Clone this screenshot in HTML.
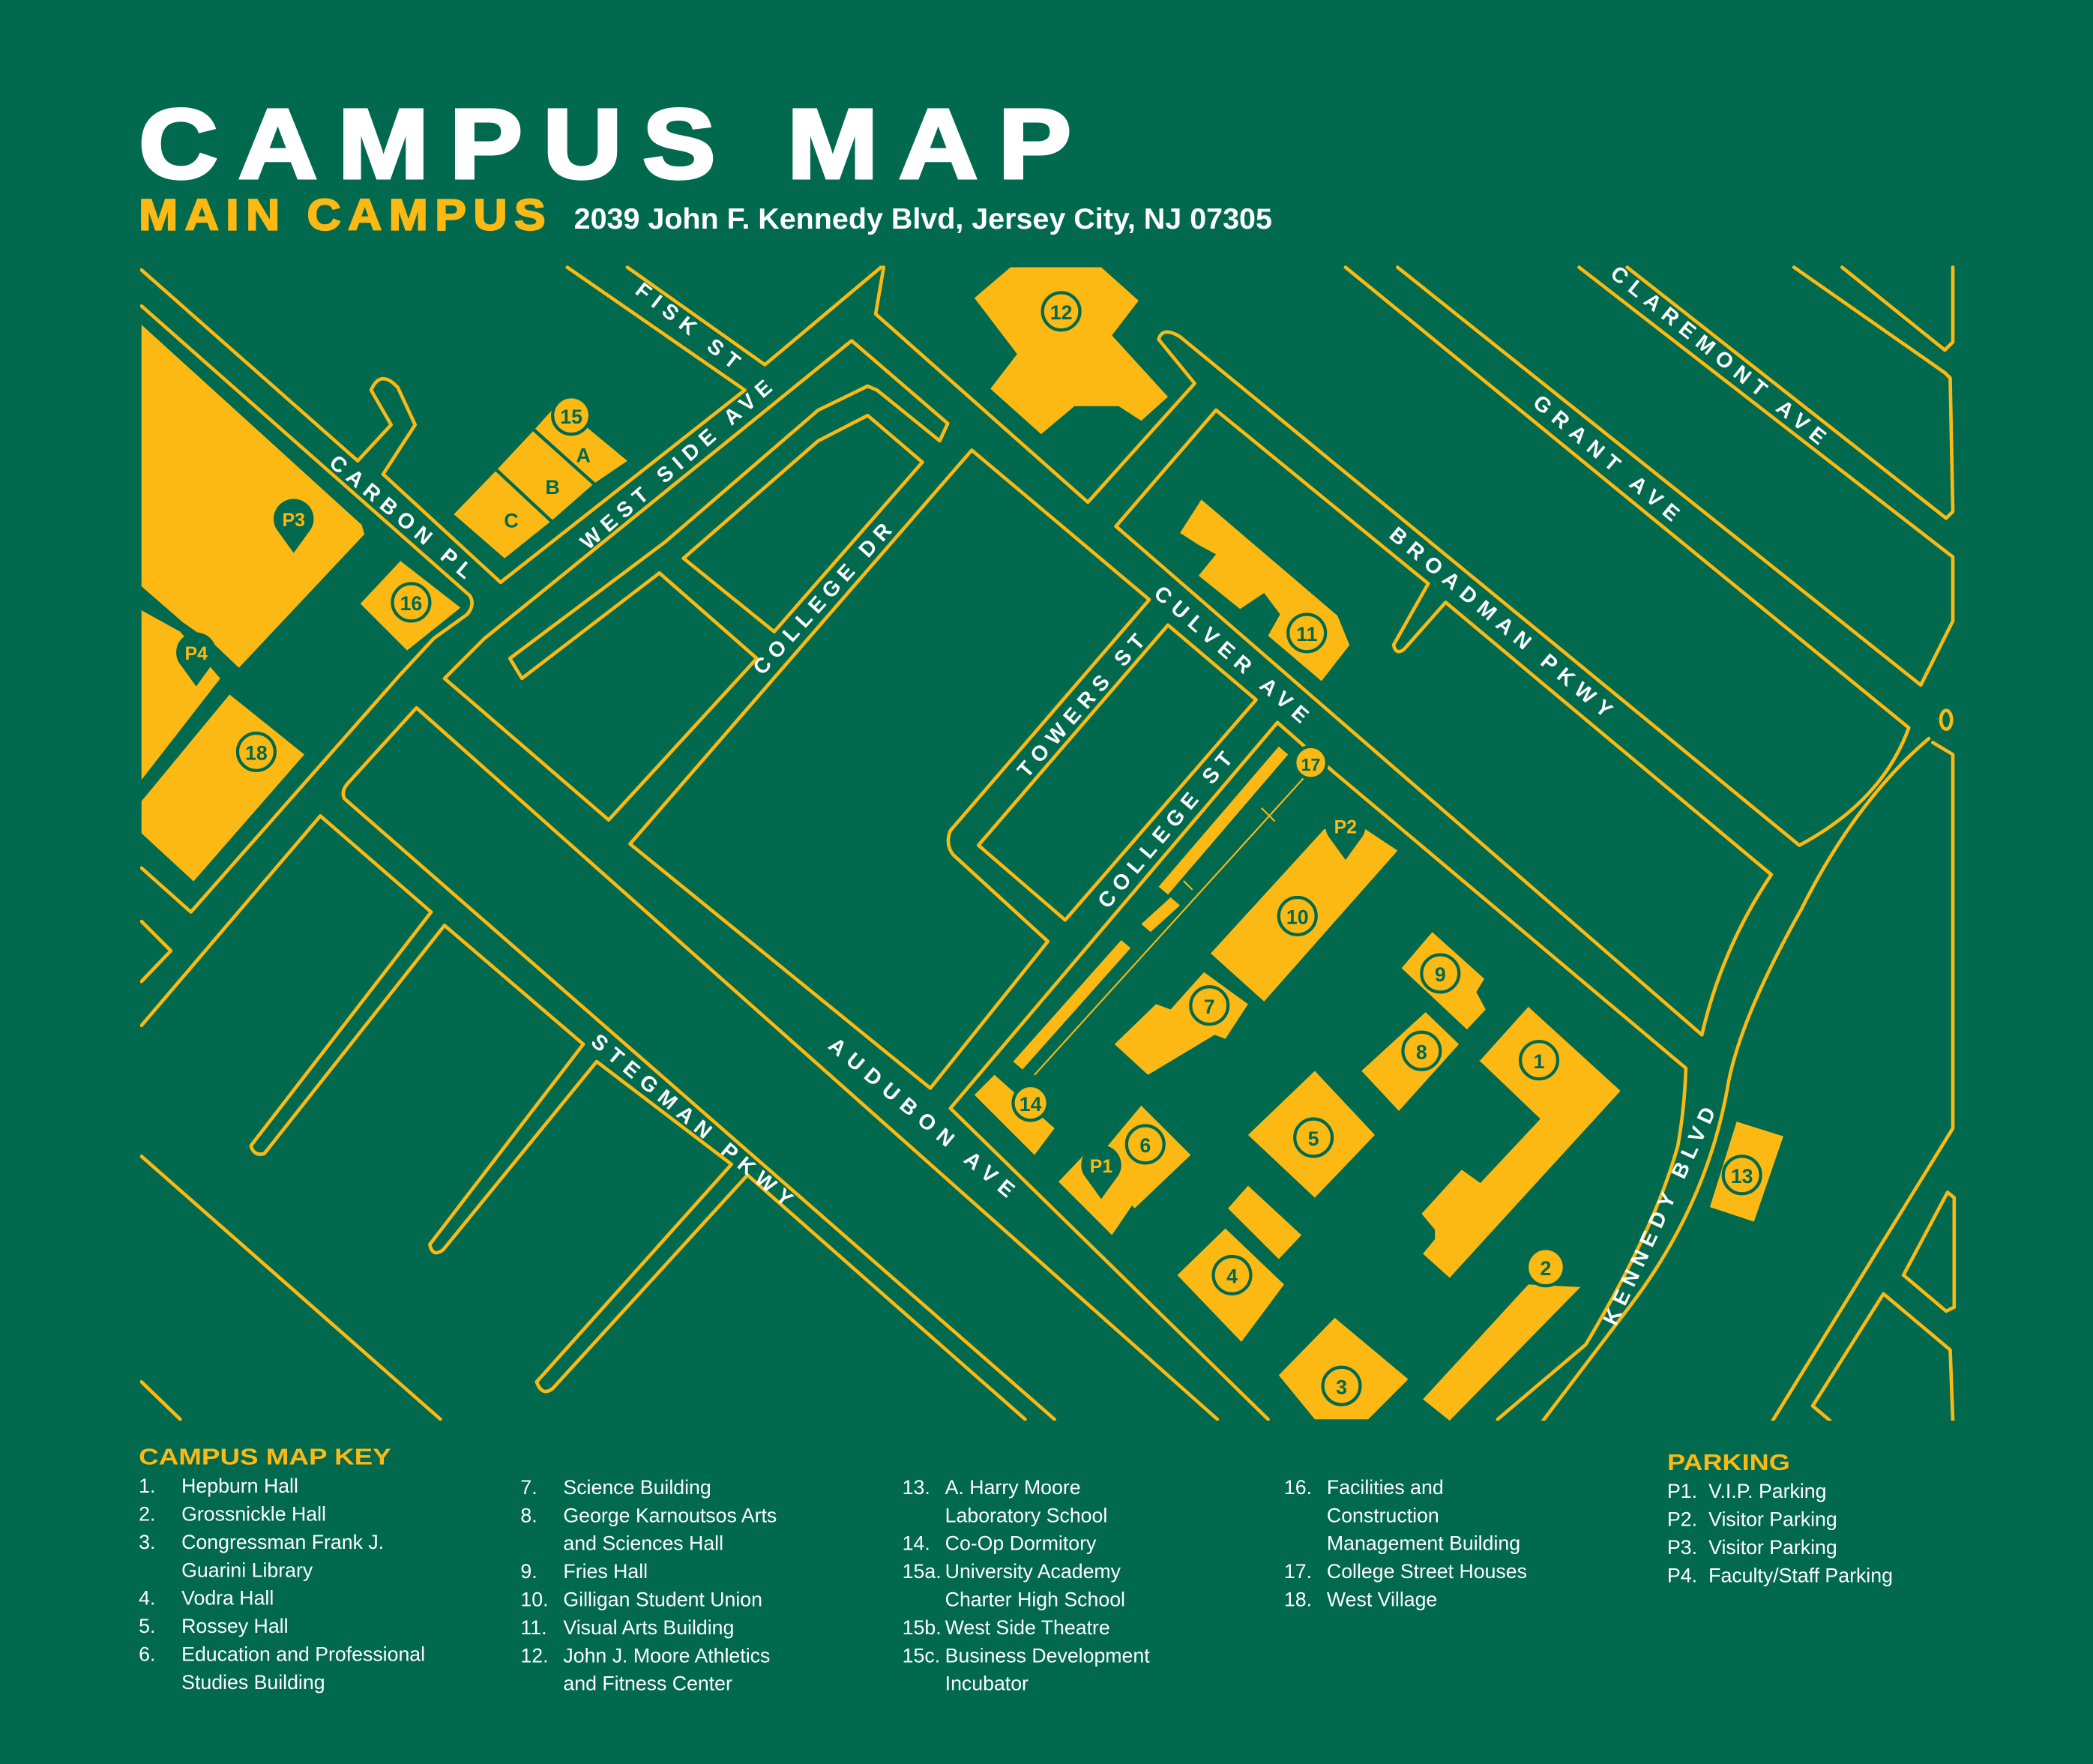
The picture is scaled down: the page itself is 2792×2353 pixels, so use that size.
<!DOCTYPE html>
<html><head><meta charset="utf-8"><style>
html,body{margin:0;padding:0;background:#00694e;}
svg{display:block}
</style></head><body>
<svg width="2792" height="2353" viewBox="0 0 1568 1321" xmlns="http://www.w3.org/2000/svg" font-family="Liberation Sans, sans-serif">
<rect width="1568" height="1321" fill="#00694e"/>
<!-- Header -->
<text x="104" y="133" fill="#fff" stroke="#fff" stroke-width="2.5" font-size="74" font-weight="bold" letter-spacing="14" textLength="714" lengthAdjust="spacingAndGlyphs">CAMPUS MAP</text>
<text x="104" y="172" fill="#fdb913" stroke="#fdb913" stroke-width="1.2" font-size="33" font-weight="bold" letter-spacing="5" textLength="310" lengthAdjust="spacingAndGlyphs">MAIN CAMPUS</text>
<text x="430" y="171" fill="#fff" font-size="22" font-weight="bold" textLength="523" lengthAdjust="spacingAndGlyphs">2039 John F. Kennedy Blvd, Jersey City, NJ 07305</text>

<!-- Map -->
<svg x="105" y="198" width="1361" height="866" viewBox="105 198 1361 866" overflow="hidden">
<g fill="#fdb913" stroke="none">
 <polygon points="106,243 271,393 273,400 179,500 160,482 137,466 106,439"/>
 <polygon points="106,457 135,473 165,508 106,584"/>
 <polygon points="106,600 172,520 228,565 145,660 106,624"/>
 <polygon points="270,452 300,420 345,455 305,487"/>
 <polygon points="340,385 372,352 413,390 378,418"/>
 <polygon points="372,352 400,322 445,362 413,390"/>
 <polygon points="400,322 418,302 470,345 445,362"/>
 <polygon points="730,223 757,200 825,200 853,225 833,251 875,297 855,315 838,304 805,304 780,325 742,291 762,265"/>
 <polygon points="884,399 900,374 1002,461 1011,483 990,510 950,476 959,460 947,444 929,456 898,431 911,415 898,408"/>
 <polygon points="868,664 958,559 965,565 875,670"/>
 <polygon points="855,692 877,672 884,678 862,698"/>
 <polygon points="759,795 840,704 847,710 766,801"/>
 <polygon points="907,714 992,621 1020,619 1047,637 947,750"/>
 <polygon points="1050,725 1073,698 1112,733 1106,743 1113,756 1099,771"/>
 <polygon points="1020,802 1068,758 1093,782 1048,832"/>
 <polygon points="835,782 866,752 877,756 902,728 935,752 918,778 910,775 860,805"/>
 <polygon points="1109,794 1145,754 1214,817 1086,957 1066,939 1075,928 1075,921 1065,909 1095,876 1109,886 1154,838 1108,794"/>
 <polygon points="935,850 985,802 1030,850 985,897"/>
 <polygon points="730,820 745,805 790,845 775,865"/>
 <polygon points="820,870 855,828 892,865 850,905"/>
 <polygon points="793,885 815,862 850,900 833,925"/>
 <polygon points="882,955 918,920 962,962 930,1005"/>
 <polygon points="920,905 935,888 975,925 958,943"/>
 <polygon points="958,1030 1000,987 1055,1033 1025,1063 985,1063"/>
 <polygon points="1066,1048 1145,962 1184,964 1086,1064"/>
 <polygon points="1301,840 1336,851 1314,915 1281,904"/>
</g>
<g stroke="#00694e" stroke-width="2.5">
 <line x1="370" y1="350" x2="415" y2="392"/>
 <line x1="398" y1="320" x2="447" y2="364"/>
</g>
<g fill="none" stroke="#fdb913" stroke-width="2.6" stroke-linejoin="round" stroke-linecap="round">
 <path d="M106,202 L268,345 L293,318 L278,292 Q285,276 298,290 L311,318 L287,355 L375,436 L558,292 L425,200"/>
 <path d="M470,200 L573,273 L660,200"/>
 <path d="M106,229 L352,446 Q356,453 350,460 L325,478 L300,505 L143,683 L106,650"/>
 <path d="M106,690 L128,712 L106,735"/>
 <path d="M106,768 L240,611 L323,683 L188,858 Q190,866 198,864 L333,693"/>
 <path d="M333,508 L363,478 L638,255 L710,317 L704,330 L657,292 L650,289 L613,307 L498,406 L382,493 L391,508 L494,429 L567,493 L456,614 Z"/>
 <path d="M512,418 L613,330 L650,311 L691,346 L580,473 Z"/>
 <path d="M472,632 L728,337 L861,449 L712,622 Q708,632 714,640 L785,705 L697,815 Z"/>
 <path d="M733,633 L875,468 L941,524 L798,689 Z"/>
 <path d="M662,200 L656,235 L815,376 L895,287 L868,254 Q871,244 884,252 L1348,633 Q1410,600 1430,545 L1008,200"/>
 <path d="M836,394 L911,307 L1070,437 L1044,483 Q1046,491 1052,486 L1083,451 L1327,655 Q1290,710 1275,775 Z"/>
 <path d="M1047,200 L1439,513 L1463,465 L1463,417 L1183,200"/>
 <path d="M1219,200 L1458,388 L1463,383 L1461,283 L1457,279 L1344,200"/>
 <path d="M1380,200 L1457,262 L1463,256 L1463,200"/>
 <ellipse cx="1458" cy="539" rx="4" ry="7"/>
 <path d="M950,1063 L712,830 L957,541 L999,578 L1263,800 Q1262,830 1257,858 Q1240,920 1188,1007 L1122,1063"/>
 <path d="M1445,553 Q1390,600 1350,680 Q1305,760 1295,810 Q1280,900 1222,977 L1156,1064"/>
 <path d="M1448,556 L1463,565 L1463,845 L1328,1064"/>
 <path d="M1459,893 L1464,897 L1464,979 L1458,982 L1426,955 Z"/>
 <path d="M1371,1064 L1358,1053 L1411,969 L1461,1011 L1463,1064"/>
 <path d="M258,598 Q255,592 262,585 L312,530 L912,1063"/>
 <path d="M258,598 L790,1063"/>
 <path d="M333,693 L437,782 L322,932 Q324,942 332,936 L447,795 L548,872 L402,1035 Q406,1046 414,1040 L560,880 L768,1063"/>
 <path d="M106,866 L330,1063"/>
 <path d="M106,1035 L135,1063"/>
 <path d="M887,660 L893,666" stroke-width="1.2"/>
</g>
<path d="M979,580 L775,805" stroke="#fdb913" stroke-width="1.2" fill="none"/>
<path d="M945,605 L955,615" stroke="#fdb913" stroke-width="1.2" fill="none"/>
<!-- badges -->
<g font-size="15" font-weight="bold" text-anchor="middle" fill="#00694e">
 <g stroke="#00694e" stroke-width="2.4" fill="#fdb913">
  <circle cx="795" cy="233" r="14"/><circle cx="979" cy="474" r="14"/>
  <circle cx="428" cy="311" r="14"/><circle cx="982" cy="571" r="12"/>
  <circle cx="972" cy="686" r="14"/><circle cx="1079" cy="729" r="14"/>
  <circle cx="1065" cy="787" r="14"/><circle cx="906" cy="753" r="14"/>
  <circle cx="1153" cy="794" r="14"/><circle cx="984" cy="852" r="14"/>
  <circle cx="772" cy="826" r="13"/><circle cx="858" cy="857" r="14"/>
  <circle cx="923" cy="955" r="14"/><circle cx="1005" cy="1038" r="14"/>
  <circle cx="1158" cy="949" r="14"/><circle cx="1305" cy="880" r="14"/>
  <circle cx="308" cy="451" r="14"/><circle cx="192" cy="563" r="14"/>
 </g>
 <text x="795" y="239">12</text><text x="979" y="480">11</text>
 <text x="428" y="317">15</text><text x="982" y="577" font-size="13">17</text>
 <text x="972" y="692">10</text><text x="1079" y="735">9</text>
 <text x="1065" y="793">8</text><text x="906" y="759">7</text>
 <text x="1153" y="800">1</text><text x="984" y="858">5</text>
 <text x="772" y="832">14</text><text x="858" y="863">6</text>
 <text x="923" y="961">4</text><text x="1005" y="1044">3</text>
 <text x="1158" y="955">2</text><text x="1305" y="886">13</text>
 <text x="308" y="457">16</text><text x="192" y="569">18</text>
 <text x="437" y="346">A</text><text x="414" y="370">B</text><text x="383" y="395">C</text>
</g>
<!-- pins -->
<g fill="#00694e">
 <path d="M220,414 L207,396 A15,15 0 1 1 233,396 Z"/>
 <path d="M147,514 L134,496 A15,15 0 1 1 160,496 Z"/>
 <path d="M1008,644 L995,626 A15,15 0 1 1 1021,626 Z"/>
 <path d="M825,898 L812,880 A15,15 0 1 1 838,880 Z"/>
</g>
<g font-size="14" font-weight="bold" text-anchor="middle" fill="#fdb913">
 <text x="220" y="394">P3</text><text x="147" y="494">P4</text>
 <text x="1008" y="624">P2</text><text x="825" y="878">P1</text>
</g>
<!-- road labels -->
<g fill="#fff" font-size="16" font-weight="bold" text-anchor="middle">
 <text transform="translate(297,391) rotate(40)" textLength="134" lengthAdjust="spacing">CARBON PL</text>
 <text transform="translate(512,248) rotate(38)" textLength="94" lengthAdjust="spacing">FISK ST</text>
 <text transform="translate(510,352) rotate(-41)" textLength="184" lengthAdjust="spacing">WEST SIDE AVE</text>
 <text transform="translate(620,452) rotate(-48)" textLength="146" lengthAdjust="spacing">COLLEGE DR</text>
 <text transform="translate(814,532) rotate(-49)" textLength="136" lengthAdjust="spacing">TOWERS ST</text>
 <text transform="translate(919,494) rotate(41)" textLength="147" lengthAdjust="spacing">CULVER AVE</text>
 <text transform="translate(1121,470) rotate(40)" textLength="212" lengthAdjust="spacing">BROADMAN PKWY</text>
 <text transform="translate(1200,347) rotate(40)" textLength="137" lengthAdjust="spacing">GRANT AVE</text>
 <text transform="translate(1284,270) rotate(39)" textLength="202" lengthAdjust="spacing">CLAREMONT AVE</text>
 <text transform="translate(877,625) rotate(-50)" textLength="147" lengthAdjust="spacing">COLLEGE ST</text>
 <text transform="translate(687,841) rotate(40)" textLength="176" lengthAdjust="spacing">AUDUBON AVE</text>
 <text transform="translate(515,843) rotate(40)" textLength="191" lengthAdjust="spacing">STEGMAN PKWY</text>
 <text transform="translate(1248,913) rotate(-65)" textLength="178" lengthAdjust="spacing">KENNEDY BLVD</text>
</g>
</svg>

<!-- Key -->
<g font-size="15" fill="#fff">
 <text x="104" y="1097" fill="#fdb913" font-size="17" font-weight="bold" textLength="189" lengthAdjust="spacingAndGlyphs">CAMPUS MAP KEY</text>
 <text x="104" y="1118">1.</text><text x="136" y="1118">Hepburn Hall</text>
 <text x="104" y="1139">2.</text><text x="136" y="1139">Grossnickle Hall</text>
 <text x="104" y="1160">3.</text><text x="136" y="1160">Congressman Frank J.</text>
 <text x="136" y="1181">Guarini Library</text>
 <text x="104" y="1202">4.</text><text x="136" y="1202">Vodra Hall</text>
 <text x="104" y="1223">5.</text><text x="136" y="1223">Rossey Hall</text>
 <text x="104" y="1244">6.</text><text x="136" y="1244">Education and Professional</text>
 <text x="136" y="1265">Studies Building</text>

 <text x="390" y="1119">7.</text><text x="422" y="1119">Science Building</text>
 <text x="390" y="1140">8.</text><text x="422" y="1140">George Karnoutsos Arts</text>
 <text x="422" y="1161">and Sciences Hall</text>
 <text x="390" y="1182">9.</text><text x="422" y="1182">Fries Hall</text>
 <text x="390" y="1203">10.</text><text x="422" y="1203">Gilligan Student Union</text>
 <text x="390" y="1224">11.</text><text x="422" y="1224">Visual Arts Building</text>
 <text x="390" y="1245">12.</text><text x="422" y="1245">John J. Moore Athletics</text>
 <text x="422" y="1266">and Fitness Center</text>

 <text x="676" y="1119">13.</text><text x="708" y="1119">A. Harry Moore</text>
 <text x="708" y="1140">Laboratory School</text>
 <text x="676" y="1161">14.</text><text x="708" y="1161">Co-Op Dormitory</text>
 <text x="676" y="1182">15a.</text><text x="708" y="1182">University Academy</text>
 <text x="708" y="1203">Charter High School</text>
 <text x="676" y="1224">15b.</text><text x="708" y="1224">West Side Theatre</text>
 <text x="676" y="1245">15c.</text><text x="708" y="1245">Business Development</text>
 <text x="708" y="1266">Incubator</text>

 <text x="962" y="1119">16.</text><text x="994" y="1119">Facilities and</text>
 <text x="994" y="1140">Construction</text>
 <text x="994" y="1161">Management Building</text>
 <text x="962" y="1182">17.</text><text x="994" y="1182">College Street Houses</text>
 <text x="962" y="1203">18.</text><text x="994" y="1203">West Village</text>

 <text x="1249" y="1101" fill="#fdb913" font-size="17" font-weight="bold" textLength="92" lengthAdjust="spacingAndGlyphs">PARKING</text>
 <text x="1249" y="1122">P1.</text><text x="1280" y="1122">V.I.P. Parking</text>
 <text x="1249" y="1143">P2.</text><text x="1280" y="1143">Visitor Parking</text>
 <text x="1249" y="1164">P3.</text><text x="1280" y="1164">Visitor Parking</text>
 <text x="1249" y="1185">P4.</text><text x="1280" y="1185">Faculty/Staff Parking</text>
</g>
</svg>
</body></html>
